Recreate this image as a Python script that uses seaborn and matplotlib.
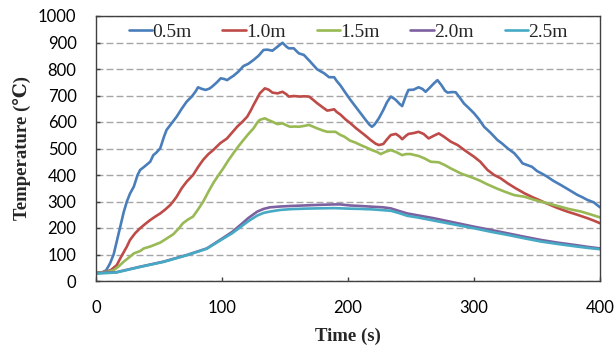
import numpy as np
import pandas as pd
import matplotlib
matplotlib.use("Agg")
import matplotlib.pyplot as plt
import seaborn as sns

# ---- data ----
series_names = ["0.5m", "1.0m", "1.5m", "2.0m", "2.5m"]

t_05 = [0, 5, 8, 11, 14, 16.5, 19, 22, 24.5, 27, 30, 33, 35, 38, 40, 43, 45.5, 48, 51, 54, 56, 60, 64, 68,
        72, 76, 79, 81, 84, 87, 90, 92, 96, 99, 102, 104, 107, 109, 113, 117, 121, 125, 129, 133, 136, 140,
        144, 148, 151, 153, 157, 159, 161, 165, 168, 170, 173, 175.5, 178, 181, 185, 189, 191, 194, 198, 202,
        206, 210, 214, 217, 219, 221, 224.5, 228, 231, 234, 236, 238, 241, 243, 246, 248, 252, 256, 259,
        261.6, 265, 268, 271, 274, 277, 279, 283, 285.5, 289, 292, 296, 300, 304, 308, 313, 318.6, 322,
        326.6, 332, 336, 338.5, 342.5, 346, 350, 354, 358, 363, 369, 375, 382, 386, 390, 395, 400]
T_05 = [30, 33, 40, 65, 100, 150, 200, 260, 300, 330, 356, 400, 419, 430, 438, 450, 475, 485, 501, 545, 570,
        595, 620, 650, 677, 696, 715, 731, 725, 721, 726, 733, 750, 765, 762, 758, 768, 774, 790, 811, 820,
        834, 850, 872, 873, 869, 884, 899, 885, 878, 878, 868, 859, 853, 838, 828, 812, 799, 792, 784, 769,
        769, 755, 738, 710, 683, 658, 633, 608, 590, 582, 590, 614, 645, 675, 696, 690, 683, 668, 660, 700,
        721, 722, 731, 725, 714, 730, 745, 758, 740, 718, 711, 713, 712, 690, 670, 652, 633, 610, 582, 560,
        532, 520, 501, 482, 460, 444, 437, 431, 415, 405, 394, 378, 362, 345, 325, 316, 306, 297, 278]

t_10 = [0, 8.5, 12, 16.5, 20, 24.4, 27, 31, 35, 39, 43, 47, 51, 55, 59, 62, 64, 68, 72, 75, 77, 81, 85, 89,
        93, 96, 98.6, 104, 108, 112, 116, 120, 123, 125, 128, 130, 134, 137, 140, 144, 148, 151, 153, 157,
        162, 165, 169, 172, 175.5, 180, 183.5, 186, 189, 191, 194, 198, 202, 206, 210, 214, 218, 222, 224.5,
        228, 231, 234, 238, 241, 243, 246, 248, 252, 256, 260, 264, 268, 272, 276, 281.5, 287, 293, 300,
        305, 310.7, 316, 321, 326.6, 333, 340, 347, 352, 356, 360, 366, 374, 382, 390, 395, 400]
T_10 = [30, 35, 42, 60, 92, 129, 155, 180, 199, 215, 230, 243, 255, 270, 287, 305, 318, 350, 375, 390, 400,
        430, 457, 478, 494, 508, 520, 538, 560, 582, 600, 620, 645, 664, 690, 708, 727, 722, 711, 708, 714,
        705, 696, 698, 696, 697, 696, 685, 671, 655, 643, 645, 648, 638, 628, 610, 595, 578, 563, 548, 532,
        518, 513, 517, 535, 551, 555, 545, 535, 548, 555, 558, 563, 555, 538, 548, 557, 545, 526, 513, 492,
        469, 450, 419, 400, 388, 369, 350, 331, 315, 305, 296, 288, 276, 262, 250, 237, 228, 218]

t_15 = [0, 10, 14, 18, 22, 26, 30, 35, 38, 43, 51, 56, 61.5, 66, 69, 73, 77, 81, 85, 89, 93, 97, 101, 105,
        109, 113, 117, 121, 125, 128, 130, 134, 137, 140, 144, 148, 151, 154, 158, 161, 165, 169, 172, 175.5,
        180, 183.5, 187, 190, 194, 197, 201.5, 206, 210, 214, 219, 223, 226, 230, 234, 238, 243, 246, 249.7,
        253, 256, 261, 265.6, 272, 277, 281.5, 290, 300, 305, 310, 318.6, 325, 332, 340, 348, 356, 365, 375,
        385, 392, 400]
T_15 = [30, 35, 41, 55, 73, 88, 104, 113, 123, 130, 145, 160, 177, 200, 218, 232, 243, 270, 299, 335, 369,
        398, 425, 455, 482, 508, 532, 555, 576, 598, 608, 614, 607, 601, 592, 595, 588, 582, 583, 582, 585,
        589, 583, 576, 568, 563, 563, 563, 551, 545, 530, 522, 513, 505, 494, 487, 479, 488, 494, 487, 475,
        479, 479, 475, 472, 462, 450, 448, 437, 425, 405, 388, 378, 366, 348, 336, 324, 318, 306, 296, 285,
        272, 262, 252, 240]

t_20 = [0, 16, 35, 53.5, 72, 88, 101, 108, 114.5, 121, 128, 133, 138, 146, 154, 165, 175.5, 189, 194, 201.5,
        210, 220.5, 228, 234, 240, 247, 255, 268, 280, 290, 300, 313, 326.6, 340, 353, 366, 380, 390, 400]
T_20 = [30, 33, 54, 73, 98, 123, 163, 185, 211, 238, 262, 272, 278, 281, 283, 285, 287, 289, 289, 285,
        283, 280, 278, 274, 265, 255, 248, 237, 225, 215, 205, 193, 180, 167, 155, 145, 136, 129, 123]

t_25 = [0, 16, 35, 53.5, 72, 88, 101, 108, 114.5, 121, 128, 133, 138, 146, 154, 165, 175.5, 189, 201.5,
        210, 220, 234, 240, 247, 255, 268, 280, 290, 300, 313, 326.6, 340, 353, 366, 380, 390, 400]
T_25 = [28, 32, 53, 72, 97, 122, 160, 180, 203, 226, 247, 257, 262, 268, 271, 273, 274, 275, 273,
        272, 270, 265, 257, 246, 240, 228, 217, 208, 199, 186, 174, 161, 149, 140, 131, 125, 120]

x_ticks = [0, 100, 200, 300, 400]
y_ticks = [0, 100, 200, 300, 400, 500, 600, 700, 800, 900, 1000]
colors = ["#4A7EBB", "#BE4B48", "#98B954", "#7D60A0", "#46AAC5"]

frames = []
for name, t, T in zip(series_names, [t_05, t_10, t_15, t_20, t_25], [T_05, T_10, T_15, T_20, T_25]):
    frames.append(pd.DataFrame({"Time": t, "Temperature": T, "Series": name}))
df = pd.concat(frames, ignore_index=True)

# ---- plot ----
sns.set_theme(style="white")
plt.rcParams["font.family"] = ["Lato", "DejaVu Sans"]

fig = plt.figure(figsize=(6.16, 3.48), dpi=100)
ax = fig.add_axes([96 / 616, 1 - 281 / 348, 504 / 616, 265 / 348])

sns.lineplot(data=df, x="Time", y="Temperature", hue="Series", hue_order=series_names,
             palette=colors, estimator=None, sort=True, linewidth=1.9, ax=ax)

ax.set_xlim(0, 400)
ax.set_ylim(0, 1000)
ax.set_xticks(x_ticks)
ax.set_yticks(y_ticks)
ax.set_xticklabels([str(v) for v in x_ticks], fontsize=12, color="#000000")
ax.set_yticklabels([str(v) for v in y_ticks], fontsize=12, color="#000000")
ax.tick_params(axis="both", direction="in", length=3, width=1, color="#404040",
               left=True, bottom=True, top=False, right=False)
ax.tick_params(axis="x", pad=14)
ax.tick_params(axis="y", pad=14)

ax.yaxis.grid(True, linestyle=(0, (5, 2.2)), color="#A6A6A6", linewidth=1)
ax.xaxis.grid(False)
ax.set_axisbelow(True)

for sp in ax.spines.values():
    sp.set_visible(True)
    sp.set_color("#404040")
    sp.set_linewidth(1)

serif = ["Liberation Serif", "DejaVu Serif"]
ax.set_xlabel("Time (s)", fontsize=13.5, fontweight="bold", family=serif, labelpad=8)
ax.set_ylabel("Temperature (℃)", fontsize=13.5, fontweight="bold", family=serif, labelpad=5)

handles, labels = ax.get_legend_handles_labels()
ax.legend(handles, labels, loc="center", bbox_to_anchor=(0.5, 0.94), ncol=5, frameon=False,
          handlelength=1.2, handletextpad=0.0, columnspacing=1.6,
          prop={"family": serif, "size": 14}, borderaxespad=0)

fig.savefig("out.png", dpi=100)
